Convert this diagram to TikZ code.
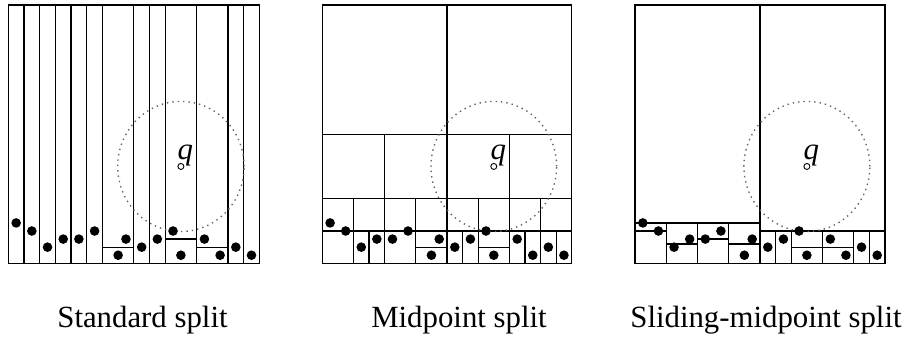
\documentclass[tikz,border=0pt]{standalone}
\usepackage{fontspec}
\setmainfont{Liberation Serif}
\begin{document}
\begin{tikzpicture}[x=0.5pt,y=-0.5pt,
  cell/.style={line width=0.6pt, black},
  dot/.style={circle, fill=black, inner sep=0pt, minimum size=4.8pt},
  qpt/.style={circle, draw=black, fill=white, line width=0.45pt, inner sep=0pt, minimum size=3pt},
  qlabel/.style={anchor=base west, inner sep=0pt, font=\fontsize{15.4}{18}\itshape\selectfont},
  rangecircle/.style={draw=black!60, dotted, line width=0.7pt},
  caption/.style={anchor=base, inner sep=0pt, font=\fontsize{15.4}{18}\selectfont}]
\useasboundingbox (0,0) rectangle (906,340);
\def\pts{0.5/2.5,1.5/2.0,2.5/1.0,3.5/1.5,4.5/1.5,5.5/2.0,7.5/1.5,7.0/0.5,8.5/1.0,9.5/1.5,10.5/2.0,11.0/0.5,12.5/1.5,13.5/0.5,14.5/1.0,15.5/0.5}

% panel 1: standard split
\begin{scope}[shift={(8.3,263.3)}, x={(7.845pt,0pt)}, y={(0pt,8.07pt)}]
 \draw[cell] (0,0) rectangle (16,16);
 \foreach \v in {1,2,3,4,5,6,8,9,10,12,14,15} \draw[cell] (\v,0) -- (\v,16);
 \draw[cell] (6,1) -- (8,1) (10,1.5) -- (12,1.5) (12,1) -- (14,1);
 \draw[rangecircle] (11,6) circle[radius=4.03];
 \foreach \ptx/\pty [count=\i] in \pts \node[dot] (a\i) at (\ptx,\pty) {};
 \node[qpt] (aq) at (11,6) {};
 \node[qlabel] (aql) at ([shift={(-1.8pt,3.4pt)}]aq.center) {q};
\end{scope}

% panel 2: midpoint split
\begin{scope}[shift={(322.3,263.3)}, x={(7.795pt,0pt)}, y={(0pt,8.07pt)}]
 \draw[cell] (0,0) rectangle (16,16);
 \draw[cell] (8,0) -- (8,16) (0,8) -- (16,8) (0,4) -- (16,4) (0,2) -- (16,2);
 \foreach \v in {4,12} \draw[cell] (\v,0) -- (\v,8);
 \foreach \v in {2,6,10,14} \draw[cell] (\v,0) -- (\v,4);
 \foreach \v in {3,9,13,15} \draw[cell] (\v,0) -- (\v,2);
 \draw[cell] (6,1) -- (8,1) (10,1) -- (12,1);
 \draw[rangecircle] (11,6) circle[radius=4.03];
 \foreach \ptx/\pty [count=\i] in \pts \node[dot] (b\i) at (\ptx,\pty) {};
 \node[qpt] (bq) at (11,6) {};
 \node[qlabel] (bql) at ([shift={(-1.8pt,3.4pt)}]bq.center) {q};
\end{scope}

% panel 3: sliding-midpoint split
\begin{scope}[shift={(635,263.3)}, x={(7.8125pt,0pt)}, y={(0pt,8.07pt)}]
 \draw[cell] (0,0) rectangle (16,16);
 \draw[cell] (8,0) -- (8,16) (0,2.5) -- (8,2.5) (8,2) -- (16,2);
 \foreach \v in {2,4,6} \draw[cell] (\v,0) -- (\v,2.5);
 \draw[cell] (0,2) -- (2,2) (2,1.2) -- (4,1.2) (4,1.5) -- (6,1.5) (6,1.2) -- (8,1.2);
 \foreach \v in {9,10,12,14,15} \draw[cell] (\v,0) -- (\v,2);
 \draw[cell] (10,1) -- (14,1);
 \draw[rangecircle] (11,6) circle[radius=4.03];
 \foreach \ptx/\pty [count=\i] in \pts \node[dot] (c\i) at (\ptx,\pty) {};
 \node[qpt] (cq) at (11,6) {};
 \node[qlabel] (cql) at ([shift={(-1.8pt,3.4pt)}]cq.center) {q};
\end{scope}

\node[caption] (cap1) at (142.5,327.7) {Standard split};
\node[caption] (cap2) at (459,327.7) {Midpoint split};
\node[caption] (cap3) at (766,327.7) {Sliding-midpoint split};
\end{tikzpicture}
\end{document}
